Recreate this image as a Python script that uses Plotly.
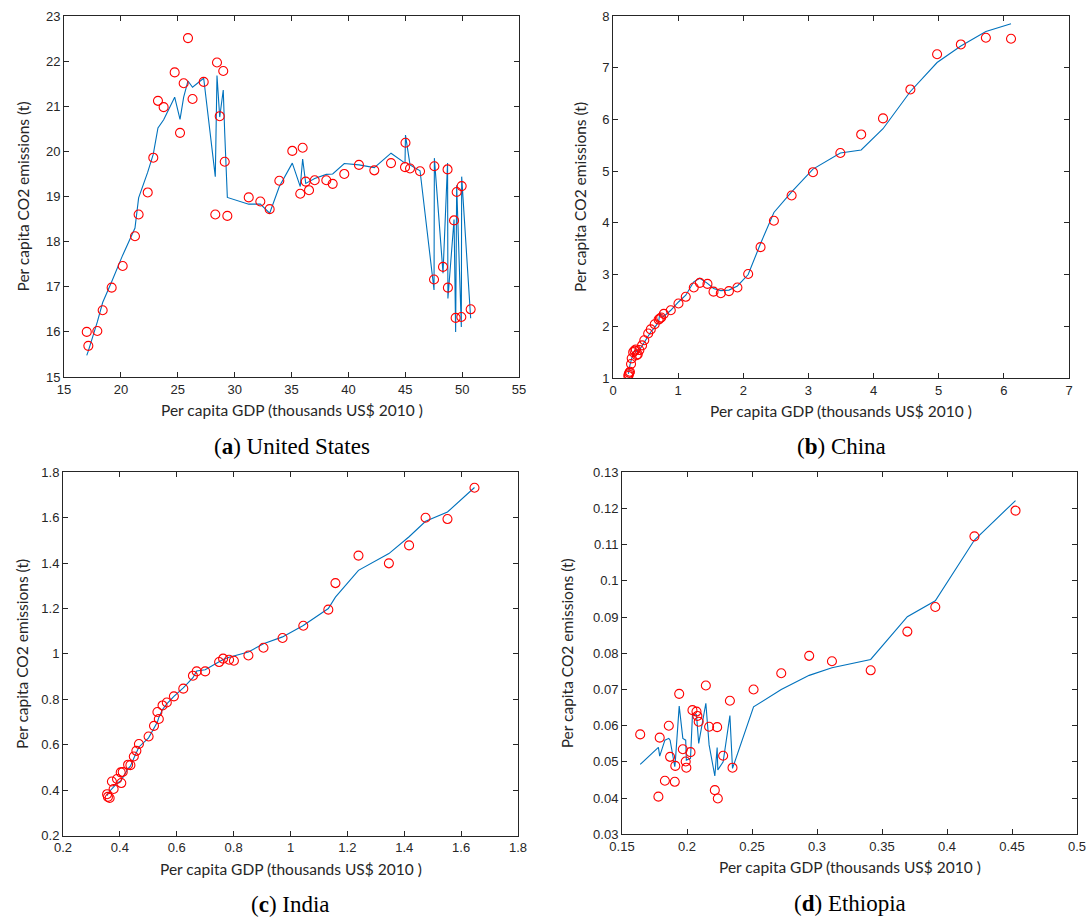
import plotly.graph_objects as go

# ---------------- Data ----------------
# (a) United States
us_gdp = [17.00, 17.14, 17.93, 18.40, 19.19, 20.16, 21.24, 21.56, 22.36, 22.85,
          23.26, 23.76, 24.73, 25.20, 25.52, 25.90, 26.30, 27.28, 28.30, 28.45,
          28.69, 29.00, 29.13, 29.36, 31.24, 32.26, 33.08, 33.93, 35.07, 35.77,
          35.98, 36.25, 36.54, 37.04, 38.06, 38.62, 39.64, 40.93, 42.28, 43.75,
          44.98, 45.02, 45.42, 46.30, 47.53, 47.56, 48.32, 48.72, 48.75, 49.29,
          49.43, 49.52, 49.93, 49.96, 50.75]
us_co2 = [16.00, 15.69, 16.02, 16.48, 16.98, 17.46, 18.12, 18.60, 19.09, 19.86,
          21.12, 20.98, 21.75, 20.41, 21.51, 22.51, 21.16, 21.54, 18.60, 21.97,
          20.78, 21.78, 19.77, 18.57, 18.98, 18.89, 18.72, 19.35, 20.01, 19.06,
          20.08, 19.33, 19.14, 19.36, 19.36, 19.28, 19.50, 19.70, 19.58, 19.74,
          19.65, 20.19, 19.62, 19.56, 17.16, 19.67, 17.44, 19.60, 16.98, 18.47,
          16.31, 19.10, 16.33, 19.23, 16.50]
us_fit = [15.48, 15.58, 16.22, 16.65, 17.11, 17.70, 18.30, 18.97, 19.54, 19.94,
          20.52, 20.70, 21.20, 20.71, 21.20, 21.56, 21.42, 21.62, 19.44, 21.68,
          20.76, 21.36, 20.40, 18.98, 18.83, 18.83, 18.63, 19.22, 19.74, 19.22,
          19.83, 19.29, 19.33, 19.40, 19.49, 19.50, 19.73, 19.70, 19.64, 19.96,
          19.74, 20.36, 19.70, 19.57, 16.93, 19.85, 17.30, 19.74, 16.74, 18.49,
          16.00, 19.25, 16.11, 19.44, 16.30]

# (b) China
cn_gdp = [0.236, 0.240, 0.250, 0.260, 0.277, 0.287, 0.310, 0.330, 0.350, 0.364,
          0.380, 0.405, 0.446, 0.480, 0.540, 0.580, 0.640, 0.700, 0.720, 0.740,
          0.780, 0.887, 1.005, 1.117, 1.240, 1.333, 1.450, 1.543, 1.655, 1.780,
          1.910, 2.075, 2.265, 2.470, 2.742, 3.070, 3.490, 3.810, 4.145, 4.565,
          4.975, 5.340, 5.724, 6.110]
cn_co2 = [1.04, 1.07, 1.10, 1.12, 1.27, 1.38, 1.50, 1.53, 1.55, 1.44,
          1.46, 1.54, 1.63, 1.73, 1.86, 1.94, 2.04, 2.13, 2.15, 2.17,
          2.24, 2.31, 2.44, 2.57, 2.75, 2.84, 2.82, 2.67, 2.64, 2.68,
          2.75, 3.01, 3.53, 4.04, 4.53, 4.98, 5.35, 5.71, 6.02, 6.58,
          7.26, 7.45, 7.58, 7.56]
cn_fit = [1.08, 1.12, 1.18, 1.25, 1.33, 1.40, 1.48, 1.53, 1.55, 1.51,
          1.50, 1.54, 1.62, 1.70, 1.82, 1.89, 1.98, 2.08, 2.27, 2.20,
          2.19, 2.31, 2.47, 2.60, 2.86, 2.93, 2.83, 2.73, 2.69, 2.70,
          2.78, 3.00, 3.60, 4.20, 4.60, 5.04, 5.35, 5.41, 5.82, 6.54,
          7.10, 7.42, 7.70, 7.85]

# (c) India
in_gdp = [0.355, 0.358, 0.364, 0.372, 0.378, 0.390, 0.403, 0.405, 0.410, 0.429,
          0.437, 0.449, 0.458, 0.467, 0.501, 0.520, 0.532, 0.537, 0.550, 0.565,
          0.590, 0.623, 0.657, 0.670, 0.700, 0.749, 0.763, 0.784, 0.801, 0.852,
          0.905, 0.972, 1.045, 1.133, 1.158, 1.239, 1.346, 1.417, 1.475, 1.552,
          1.647]
in_co2 = [0.382, 0.370, 0.365, 0.438, 0.405, 0.449, 0.478, 0.431, 0.480, 0.512,
          0.510, 0.548, 0.573, 0.603, 0.636, 0.683, 0.744, 0.713, 0.773, 0.786,
          0.813, 0.847, 0.904, 0.923, 0.923, 0.964, 0.979, 0.974, 0.970, 0.993,
          1.027, 1.070, 1.124, 1.195, 1.312, 1.433, 1.399, 1.478, 1.600, 1.594,
          1.732]
in_fit = [0.375, 0.385, 0.395, 0.405, 0.415, 0.430, 0.440, 0.445, 0.455, 0.495,
          0.505, 0.540, 0.565, 0.590, 0.630, 0.670, 0.700, 0.720, 0.755, 0.780,
          0.813, 0.850, 0.895, 0.925, 0.930, 0.965, 0.975, 0.985, 0.990, 1.008,
          1.045, 1.075, 1.125, 1.200, 1.250, 1.368, 1.442, 1.516, 1.584, 1.625,
          1.733]

# (d) Ethiopia
et_gdp = [0.164, 0.178, 0.179, 0.183, 0.186, 0.187, 0.1906, 0.191, 0.194, 0.1968,
          0.199, 0.1995, 0.2027, 0.2042, 0.2073, 0.208, 0.209, 0.2145, 0.217, 0.2214,
          0.2232, 0.2237, 0.2278, 0.233, 0.235, 0.2512, 0.2725, 0.294, 0.3115, 0.3413,
          0.3695, 0.391, 0.4211, 0.4527]
et_co2 = [0.0576, 0.0404, 0.0567, 0.0448, 0.0600, 0.0514, 0.0445, 0.0489, 0.0688, 0.0535,
          0.0501, 0.0484, 0.0527, 0.0643, 0.0639, 0.0627, 0.0611, 0.0711, 0.0597, 0.0422,
          0.0596, 0.0399, 0.0517, 0.0669, 0.0484, 0.0700, 0.0745, 0.0793, 0.0778, 0.0753,
          0.0860, 0.0928, 0.1123, 0.1194]
et_fit = [0.0493, 0.0540, 0.0516, 0.0560, 0.0565, 0.0560, 0.0487, 0.0500, 0.0654, 0.0565,
          0.0560, 0.0505, 0.0510, 0.0630, 0.0630, 0.0600, 0.0551, 0.0662, 0.0547, 0.0461,
          0.0540, 0.0478, 0.0500, 0.0628, 0.0482, 0.0652, 0.0700, 0.0739, 0.0760, 0.0783,
          0.0901, 0.0945, 0.1113, 0.1222]

captions = ["(<b>a</b>) United States", "(<b>b</b>) China", "(<b>c</b>) India", "(<b>d</b>) Ethiopia"]
x_title = "Per capita GDP (thousands US$ 2010 )"
y_title = "Per capita CO2 emissions (t)"

# ---------------- Figure ----------------
W, H = 1090, 920
fig = go.Figure()

panels = [
    dict(x=us_gdp, y=us_co2, f=us_fit, xr=[15, 55], xd=5, yr=[15, 23], yd=1,
         dx=[64 / W, 519 / W], dy=[1 - 377 / H, 1 - 16 / H]),
    dict(x=cn_gdp, y=cn_co2, f=cn_fit, xr=[0, 7], xd=1, yr=[1, 8], yd=1,
         dx=[613 / W, 1069 / W], dy=[1 - 378 / H, 1 - 16 / H]),
    dict(x=in_gdp, y=in_co2, f=in_fit, xr=[0.2, 1.8], xd=0.2, yr=[0.2, 1.8], yd=0.2,
         dx=[63 / W, 518 / W], dy=[1 - 835.5 / H, 1 - 472.3 / H]),
    dict(x=et_gdp, y=et_co2, f=et_fit, xr=[0.15, 0.5], xd=0.05, yr=[0.03, 0.13], yd=0.01,
         dx=[622 / W, 1077 / W], dy=[1 - 834.3 / H, 1 - 472.3 / H]),
]
ytitle_x = [22, 580, 22, 567]

axis_common = dict(showgrid=False, zeroline=False, showline=True, linecolor="#262626",
                   linewidth=1, mirror="ticks", ticks="inside", ticklen=5,
                   tickcolor="#262626", tickwidth=1,
                   tickfont=dict(family="Liberation Sans, Arial", size=13, color="#262626"),
                   tick0=0, tickmode="linear", automargin=False)

for i, p in enumerate(panels):
    n = i + 1
    xa = "x" if n == 1 else f"x{n}"
    ya = "y" if n == 1 else f"y{n}"
    fig.add_trace(go.Scatter(x=p["x"], y=p["f"], mode="lines", xaxis=xa, yaxis=ya,
                             line=dict(color="#0072BD", width=1.1), showlegend=False,
                             hoverinfo="skip"))
    fig.add_trace(go.Scatter(x=p["x"], y=p["y"], mode="markers", xaxis=xa, yaxis=ya,
                             marker=dict(symbol="circle-open", size=9,
                                         line=dict(color="#FF0000", width=1.1),
                                         color="#FF0000"),
                             showlegend=False))
    xkey = "xaxis" if n == 1 else f"xaxis{n}"
    ykey = "yaxis" if n == 1 else f"yaxis{n}"
    fig.update_layout({
        xkey: dict(axis_common, domain=p["dx"], range=p["xr"], dtick=p["xd"], anchor=ya),
        ykey: dict(axis_common, domain=p["dy"], range=p["yr"], dtick=p["yd"], anchor=xa),
    })
    cx = (p["dx"][0] + p["dx"][1]) / 2
    cy = (p["dy"][0] + p["dy"][1]) / 2
    # x axis title
    fig.add_annotation(text=x_title, xref="paper", yref="paper", x=cx,
                       y=p["dy"][0] - 33 / H, xanchor="center", yanchor="middle",
                       showarrow=False,
                       font=dict(family="Lato, Open Sans", size=15.5, color="#262626"))
    # y axis title
    fig.add_annotation(text=y_title, xref="paper", yref="paper", x=ytitle_x[i] / W,
                       y=cy, xanchor="center", yanchor="middle", textangle=-90,
                       showarrow=False,
                       font=dict(family="Lato, Open Sans", size=15.5, color="#262626"))
    # caption
    fig.add_annotation(text=captions[i], xref="paper", yref="paper", x=cx,
                       y=p["dy"][0] - 69 / H, xanchor="center", yanchor="middle",
                       showarrow=False,
                       font=dict(family="Liberation Serif, DejaVu Serif", size=23,
                                 color="#000000"))

fig.update_layout(width=W, height=H, margin=dict(l=0, r=0, t=0, b=0),
                  paper_bgcolor="white", plot_bgcolor="white")

fig.write_html("out.html", config={"displayModeBar": False},
               post_script="document.body.style.margin='0';document.body.style.overflow='hidden';")
